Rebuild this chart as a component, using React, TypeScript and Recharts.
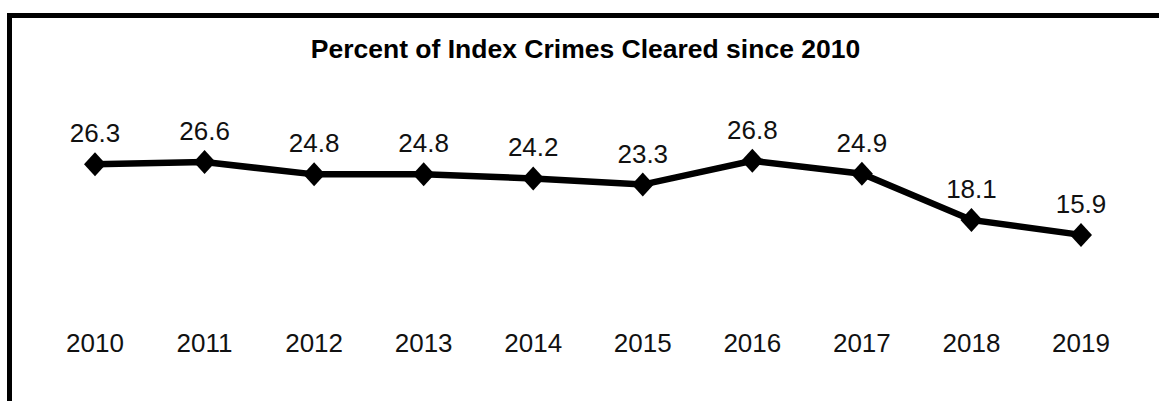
import { LineChart, Line, XAxis, YAxis, LabelList } from 'recharts';

const years = ['2010', '2011', '2012', '2013', '2014', '2015', '2016', '2017', '2018', '2019'];
const cleared = [26.3, 26.6, 24.8, 24.8, 24.2, 23.3, 26.8, 24.9, 18.1, 15.9];

const data = years.map((year, i) => ({ year, value: cleared[i] }));

const FONT = 'Arial, "Liberation Sans", sans-serif';

// diamond marker like the Excel one
const Diamond = (props: any) => {
  const { cx, cy } = props;
  if (cx == null || cy == null) return null;
  return (
    <polygon
      points={`${cx},${cy - 12} ${cx + 11},${cy} ${cx},${cy + 12} ${cx - 11},${cy}`}
      fill="#000"
    />
  );
};

const YearTick = (props: any) => {
  const { x, y, payload } = props;
  return (
    <text x={x} y={y} dy={9} textAnchor="middle" fontSize={26} fontFamily={FONT} fill="#111">
      {payload.value}
    </text>
  );
};

export default function App() {
  return (
    <div
      style={{
        position: 'absolute',
        left: 0,
        top: 0,
        width: 1159,
        height: 401,
        overflow: 'hidden',
        background: '#fff',
      }}
    >
      <div
        style={{
          position: 'absolute',
          left: 7,
          top: 13,
          width: 1300,
          height: 500,
          border: '5px solid #000',
        }}
      />
      <div
        style={{
          position: 'absolute',
          left: 0,
          width: 1171,
          top: 36,
          textAlign: 'center',
          fontFamily: FONT,
          fontWeight: 'bold',
          fontSize: 26.5,
          lineHeight: '26px',
          color: '#000',
        }}
      >
        Percent of Index Crimes Cleared since 2010
      </div>
      <div style={{ position: 'absolute', left: 0, top: 0 }}>
        <LineChart
          width={1159}
          height={401}
          data={data}
          margin={{ top: 139, right: 78, bottom: 28, left: 95 }}
        >
          <XAxis
            dataKey="year"
            axisLine={false}
            tickLine={false}
            tickSize={0}
            tickMargin={0}
            height={30}
            interval={0}
            padding={{ left: 0, right: 0 }}
            tick={<YearTick />}
          />
          <YAxis hide domain={[0, 30]} />
          <Line
            type="linear"
            dataKey="value"
            stroke="#000"
            strokeWidth={6.5}
            dot={<Diamond />}
            activeDot={false}
            isAnimationActive={false}
          >
            <LabelList
              dataKey="value"
              position="top"
              offset={22}
              style={{ fontSize: 26, fontFamily: FONT, fill: '#111' }}
            />
          </Line>
        </LineChart>
      </div>
    </div>
  );
}
